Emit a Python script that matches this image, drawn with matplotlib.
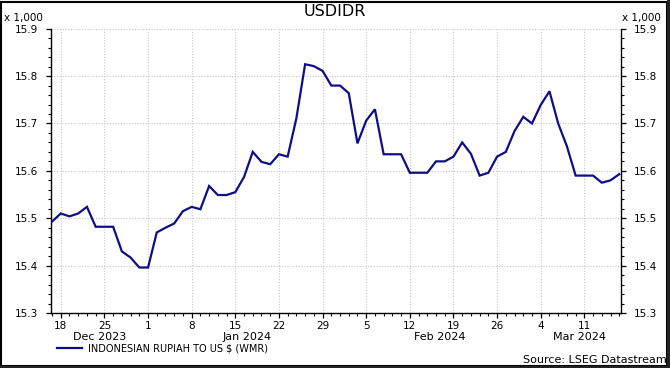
import numpy as np
import pandas as pd
import matplotlib
matplotlib.use("Agg")
import matplotlib.pyplot as plt
from matplotlib.ticker import FixedLocator, MultipleLocator, NullFormatter
from matplotlib.transforms import blended_transform_factory
from matplotlib.patches import Rectangle

plt.rcParams['font.family'] = ['DejaVu Sans']

# ---- data ----
dates = pd.bdate_range('2023-12-15', '2024-03-15')
usdidr = [
    15493, 15510, 15504, 15510, 15524, 15482, 15482, 15482, 15430, 15417, 15396,   # Dec
    15396, 15470, 15480, 15489, 15515, 15524, 15519, 15568, 15549, 15549,          # Jan 1-12
    15555, 15587, 15640, 15619, 15614, 15635, 15630, 15711, 15825, 15821,          # Jan 15-26
    15811, 15780, 15780,                                                           # Jan 29-31
    15764, 15658, 15706, 15730, 15635, 15635, 15635, 15596, 15596, 15596,          # Feb 1-14
    15620, 15620, 15630, 15660, 15636, 15590, 15596, 15630, 15640, 15684, 15714,   # Feb 15-29
    15700, 15739, 15768, 15700, 15652, 15590, 15590, 15590, 15575, 15580, 15593,   # Mar
]
series_label = 'INDONESIAN RUPIAH TO US $ (WMR)'
title = 'USDIDR'
source = 'Source: LSEG Datastream'
y_ticks = [15.3, 15.4, 15.5, 15.6, 15.7, 15.8, 15.9]

W, H = 670, 368
fig = plt.figure(figsize=(W / 100, H / 100), dpi=100)
ax = fig.add_axes([51 / W, 1 - 313 / H, (621 - 51) / W, (313 - 28.7) / H])

x = np.arange(len(dates))
y = np.array(usdidr) / 1000.0
ax.plot(x, y, color='#0e0e86', lw=1.6, solid_joinstyle='miter', zorder=3)

ax.set_xlim(-0.12, len(dates) - 1 + 0.2)
ax.set_ylim(15.3, 15.9)

# x ticks: Mondays major, every weekday minor
mondays = [i for i, d in enumerate(dates) if d.weekday() == 0]
ax.xaxis.set_major_locator(FixedLocator(mondays))
ax.set_xticklabels([str(dates[i].day) for i in mondays])
ax.xaxis.set_minor_locator(FixedLocator(list(x)))
ax.xaxis.set_minor_formatter(NullFormatter())

ax.yaxis.set_major_locator(FixedLocator(y_ticks))
ax.set_yticklabels([f'{v:.1f}' for v in y_ticks])
ax.yaxis.set_minor_locator(MultipleLocator(0.02))

ax.tick_params(axis='both', which='major', direction='out', length=3.5, width=0.9,
               labelsize=7.5, colors='black')
ax.tick_params(axis='both', which='minor', direction='out', length=2, width=0.8)
ax.tick_params(axis='y', which='both', left=True, right=True, labelleft=True,
               labelright=True)
ax.tick_params(axis='y', which='major', pad=6)
ax.tick_params(axis='x', which='major', pad=2)

for s in ['left', 'right', 'bottom']:
    ax.spines[s].set_linewidth(1.0)
    ax.spines[s].set_color('black')
ax.spines['top'].set_visible(False)

ax.grid(True, which='major', color='#c8c8c8', linestyle=(0, (1, 1.5)), lw=0.8)
ax.set_axisbelow(True)

# month labels
trans = blended_transform_factory(ax.transData, fig.transFigure)
months = pd.Series(x, index=dates).groupby([dates.year, dates.month])
for (yr, mo), grp in months:
    first, last = grp.iloc[0], grp.iloc[-1]
    xc = min((first + last) / 2 + 0.4, len(dates) - 5.6)
    label = pd.Timestamp(year=yr, month=mo, day=1).strftime('%b %Y')
    ax.text(xc, 1 - 337.5 / H, label, transform=trans, ha='center', va='center',
            fontsize=8)

# titles and annotations
fig.text(334.7 / W, 1 - 12 / H, title, ha='center', va='center', fontsize=11.5)
fig.text(4 / W, 1 - 17.5 / H, 'x 1,000', ha='left', va='center', fontsize=7.5)
fig.text(622 / W, 1 - 17.5 / H, 'x 1,000', ha='left', va='center', fontsize=7.5)
fig.text(667 / W, 1 - 360 / H, source, ha='right', va='center', fontsize=8)

# legend
fig.legend([ax.lines[0]], [series_label], loc='center left',
           bbox_to_anchor=(57 / W, 1 - 348.5 / H), frameon=False, fontsize=7,
           handlelength=2.6, handletextpad=0.6, borderpad=0, borderaxespad=0)

# outer border
fig.patches.append(Rectangle((1 / W, 2 / H), (W - 4) / W, (H - 3.5) / H,
                             transform=fig.transFigure, fill=False,
                             edgecolor='black', lw=1.5))
fig.patches.append(Rectangle((0, 0), 1, 2.5 / H, transform=fig.transFigure,
                             color='#222222', lw=0))
fig.patches.append(Rectangle((1 - 3 / W, 0), 3 / W, 1, transform=fig.transFigure,
                             color='#222222', lw=0))

fig.savefig('out.png', dpi=100)
